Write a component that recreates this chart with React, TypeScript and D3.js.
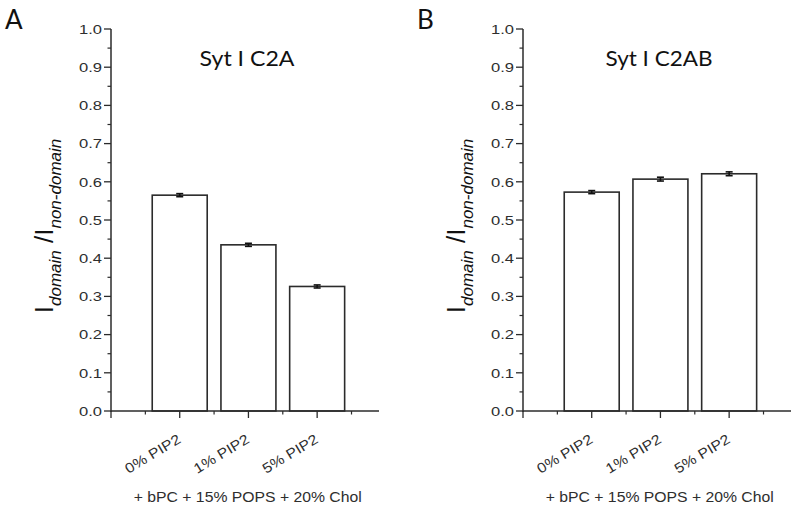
import React from "react";
import * as d3 from "d3";

const categories = ["0% PIP2", "1% PIP2", "5% PIP2"];
const valuesA = [0.565, 0.435, 0.326];
const errorsA = [0.004, 0.004, 0.004];
const valuesB = [0.573, 0.607, 0.621];
const errorsB = [0.004, 0.005, 0.005];
const yTicks = [0, 0.1, 0.2, 0.3, 0.4, 0.5, 0.6, 0.7, 0.8, 0.9, 1.0];
const yMinor = [0.05, 0.15, 0.25, 0.35, 0.45, 0.55, 0.65, 0.75, 0.85, 0.95];
const xMajor = [0, 1, 2, 3];
const xMinor = [0.5, 1.5, 2.5, 3.5];
const titles = ["Syt I C2A", "Syt I C2AB"];
const panelLetters = ["A", "B"];
const xAxisTitle = "+ bPC + 15% POPS + 20% Chol";

const INK = "#2b2b2b";
const TXT = "#2e2e2e";

function Panel({ x0, values, errors, title, letter }: { x0: number; values: number[]; errors: number[]; title: string; letter: string }) {
  const x = d3.scaleLinear().domain([0, 3.9]).range([x0, x0 + 268]);
  const y = d3.scaleLinear().domain([0, 1]).range([411, 29]);
  const bw = x(0.8) - x(0);
  const fmt = d3.format(".1f");
  return (
    <g>
      <text x={x0 - 106} y={29} fontFamily="Lato, 'Open Sans', sans-serif" fontSize={26} fill="#111">{letter}</text>
      <text x={x(1.98)} y={66} textAnchor="middle" fontFamily="Lato, 'Open Sans', sans-serif" fontSize={20.5} fill="#111"
        textLength={title.length > 9 ? 107 : 95} lengthAdjust="spacingAndGlyphs">{title}</text>
      {/* bars */}
      {values.map((v, i) => (
        <g key={i}>
          <rect x={x(i + 1) - bw / 2} y={y(v)} width={bw} height={y(0) - y(v)} fill="#fff" stroke={INK} strokeWidth={1.6} />
          <line x1={x(i + 1)} x2={x(i + 1)} y1={y(v + errors[i])} y2={y(v - errors[i])} stroke="#111" strokeWidth={1.6} />
          <line x1={x(i + 1) - 3.5} x2={x(i + 1) + 3.5} y1={y(v + errors[i])} y2={y(v + errors[i])} stroke="#111" strokeWidth={1.6} />
          <line x1={x(i + 1) - 3.5} x2={x(i + 1) + 3.5} y1={y(v - errors[i])} y2={y(v - errors[i])} stroke="#111" strokeWidth={1.6} />
        </g>
      ))}
      {/* y axis */}
      <line x1={x0} x2={x0} y1={y(0) + 1} y2={y(1)} stroke={INK} strokeWidth={1.5} />
      {yTicks.map((t) => (
        <g key={"y" + t}>
          <line x1={x0 - 7} x2={x0} y1={y(t)} y2={y(t)} stroke={INK} strokeWidth={1.3} />
          <text x={x0 - 9} y={y(t) + 4.8} textAnchor="end" fontFamily="'Liberation Sans', Arial, sans-serif" fontSize={13.5} fill={TXT}
            textLength={23} lengthAdjust="spacingAndGlyphs">{fmt(t)}</text>
        </g>
      ))}
      {yMinor.map((t) => (
        <line key={"ym" + t} x1={x0 - 3.5} x2={x0} y1={y(t)} y2={y(t)} stroke={INK} strokeWidth={1.2} />
      ))}
      {/* x axis */}
      <line x1={x0} x2={x(3.9)} y1={y(0)} y2={y(0)} stroke={INK} strokeWidth={1.5} />
      {xMajor.map((t) => (
        <line key={"x" + t} x1={x(t)} x2={x(t)} y1={y(0)} y2={y(0) + 7} stroke={INK} strokeWidth={1.3} />
      ))}
      {xMinor.map((t) => (
        <line key={"xm" + t} x1={x(t)} x2={x(t)} y1={y(0)} y2={y(0) + 3.5} stroke={INK} strokeWidth={1.2} />
      ))}
      {categories.map((c, i) => (
        <text key={c} transform={`translate(${x(i + 1) + 2},${442}) rotate(-31)`} textAnchor="end"
          fontFamily="'Liberation Sans', Arial, sans-serif" fontSize={14} fill={TXT} textLength={62} lengthAdjust="spacingAndGlyphs">{c}</text>
      ))}
      <text x={x(1.99)} y={502} textAnchor="middle" fontFamily="'Liberation Sans', Arial, sans-serif" fontSize={14} fill={TXT}
        textLength={228} lengthAdjust="spacingAndGlyphs">{xAxisTitle}</text>
      {/* y label */}
      <text transform={`translate(${x0 - 58},${226}) rotate(-90)`} textAnchor="middle" fontFamily="'Liberation Sans', Arial, sans-serif" fill="#111">
        <tspan fontSize={26}>I</tspan>
        <tspan fontSize={17} fontStyle="italic" dy={8}>domain</tspan>
        <tspan fontSize={26} dy={-8}> /I</tspan>
        <tspan fontSize={17} fontStyle="italic" dy={8}>non-domain</tspan>
      </text>
    </g>
  );
}

export default function App() {
  return (
    <svg width={800} height={512} style={{ position: "absolute", left: 0, top: 0, background: "#fff" }}>
      <rect width={800} height={512} fill="#fff" />
      <Panel x0={111} values={valuesA} errors={errorsA} title={titles[0]} letter={panelLetters[0]} />
      <Panel x0={523} values={valuesB} errors={errorsB} title={titles[1]} letter={panelLetters[1]} />
    </svg>
  );
}
